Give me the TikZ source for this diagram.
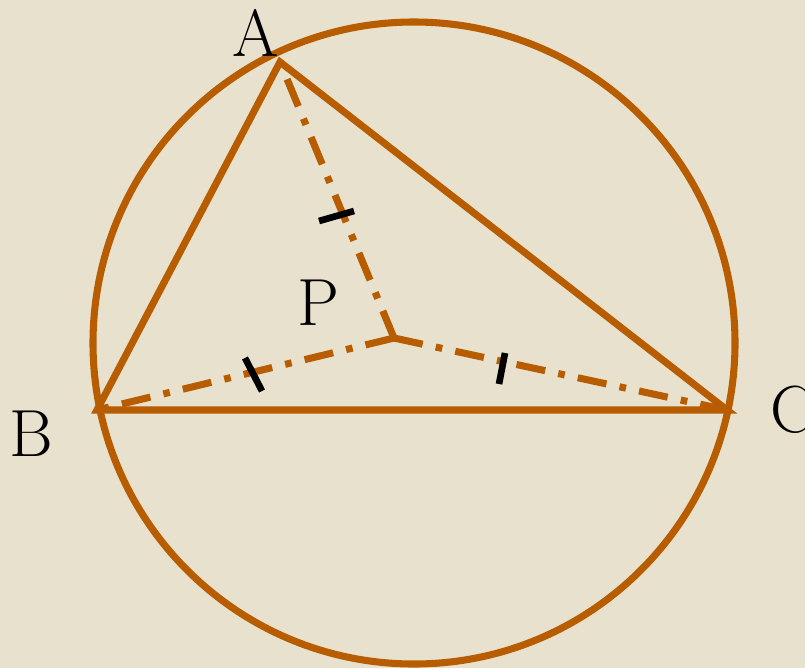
\documentclass[tikz,border=0pt]{standalone}
\definecolor{bg}{RGB}{232,225,206}
\definecolor{org}{RGB}{184,92,0}
\begin{document}
\begin{tikzpicture}[x=0.75pt,y=-0.75pt,
  edge/.style={draw=org,line width=5.3pt,line join=miter},
  dashdot/.style={draw=org,line width=5.3pt,dash pattern=on 22pt off 10pt on 5pt off 10pt},
  tick/.style={draw=black,line width=5pt},
  lbl/.style={font=\fontsize{50}{50}\selectfont,text=black,inner sep=0pt}]
\fill[bg] (0,0) rectangle (805,668);
\useasboundingbox (0,0) rectangle (805,668);
\coordinate (A) at (280,62);
\coordinate (B) at (97,410);
\coordinate (C) at (727,410);
\coordinate (P) at (394,338);
\coordinate (O) at (414,343);
\draw[edge] (O) circle (321);
\draw[dashdot] (P) -- (A);
\draw[dashdot] (P) -- (B);
\draw[dashdot] (P) -- (C);
\draw[edge] (A) -- (B) -- (C) -- cycle;
\coordinate (t1a) at (319,221); \coordinate (t1b) at (354,211);
\coordinate (t2a) at (245,358); \coordinate (t2b) at (262,391);
\coordinate (t3a) at (505,353); \coordinate (t3b) at (499,384);
\draw[tick] (t1a) -- (t1b);
\draw[tick] (t2a) -- (t2b);
\draw[tick] (t3a) -- (t3b);
\node[lbl] (la) at (256,33) {A};
\node[lbl] (lp) at (318,303) {P};
\node[lbl] (lb) at (31,434) {B};
\node[lbl,anchor=west] (lc) at (770,410) {C};
\end{tikzpicture}
\end{document}
